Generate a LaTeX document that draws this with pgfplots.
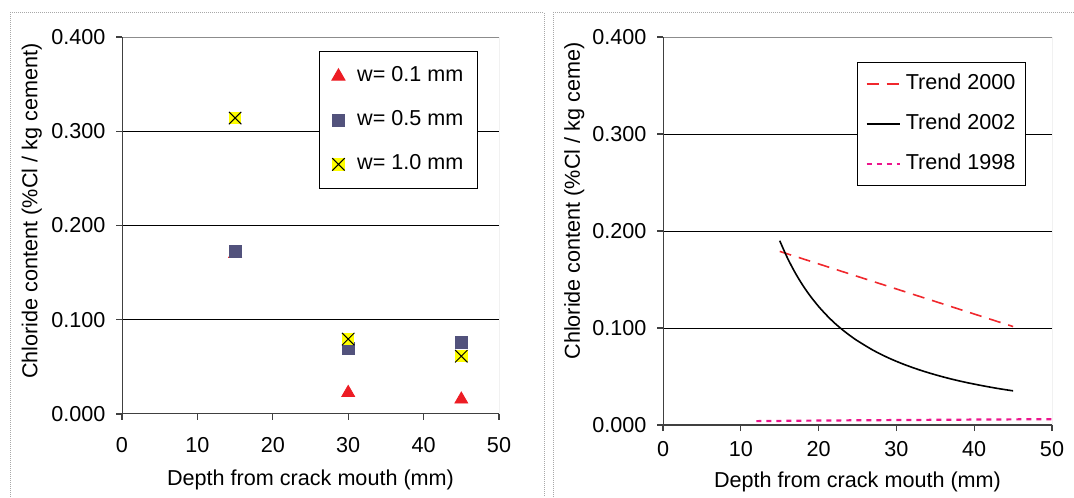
\documentclass[border=0pt]{standalone}
\usepackage{fontspec}
\setmainfont{Liberation Sans}
\usepackage{pgfplots}
\pgfplotsset{compat=1.18}

\definecolor{mkred}{HTML}{ED1C24}
\definecolor{mkslate}{HTML}{52527C}
\definecolor{mkyellow}{HTML}{FFFF00}
\definecolor{trendred}{HTML}{F0282D}
\definecolor{trendpink}{HTML}{EC158C}
\definecolor{axisdark}{HTML}{404040}
\definecolor{framegray}{HTML}{8C8C8C}
\definecolor{panelgray}{HTML}{A8A8A8}

% yellow square with a black cross
\pgfdeclareplotmark{xbox}{%
  \pgfpathrectangle{\pgfqpoint{-\pgfplotmarksize}{-\pgfplotmarksize}}{\pgfqpoint{2\pgfplotmarksize}{2\pgfplotmarksize}}%
  \pgfusepath{fill}%
  \pgfpathmoveto{\pgfqpoint{-\pgfplotmarksize}{-\pgfplotmarksize}}%
  \pgfpathlineto{\pgfqpoint{\pgfplotmarksize}{\pgfplotmarksize}}%
  \pgfpathmoveto{\pgfqpoint{-\pgfplotmarksize}{\pgfplotmarksize}}%
  \pgfpathlineto{\pgfqpoint{\pgfplotmarksize}{-\pgfplotmarksize}}%
  \pgfusepath{stroke}}

\pgfplotsset{
  chloride/.style={
    scale only axis,
    xmin=0, xmax=50, ymin=0, ymax=0.4,
    xtick={0,10,20,30,40,50},
    ytick={0,0.1,0.2,0.3,0.4},
    xtick pos=left, ytick pos=left,
    tick align=outside,
    major tick length=3pt,
    tick style={axisdark, line width=0.6pt},
    axis line style={draw=none},
    ymajorgrids,
    major grid style={black, line width=0.5pt},
    /pgf/number format/assume math mode=true,
    yticklabel style={xshift=-1.5pt, /pgf/number format/fixed, /pgf/number format/fixed zerofill, /pgf/number format/precision=3},
    xlabel={Depth from crack mouth (mm)},
    every axis y label/.style={rotate=90, anchor=center},
    legend cell align=left,
    every axis legend/.append style={draw=black, line width=0.5pt, fill=white,
      nodes={inner sep=1pt, text height=7.5pt, text depth=2pt}},
  },
}

\newcommand{\plotframe}{%
  \draw[framegray, line width=0.5pt] (rel axis cs:0,1) -- (rel axis cs:1,1) -- (rel axis cs:1,0);
  \draw[axisdark, line width=0.8pt] (rel axis cs:0,1) -- (rel axis cs:0,0) -- (rel axis cs:1,0);
}

\begin{document}
\fontsize{10.8}{13}\selectfont
\begin{tikzpicture}[font=\fontsize{10.8}{13}\selectfont]
\useasboundingbox (0,0) rectangle (537pt,248.5pt);

% chart area borders
\draw[panelgray, line width=0.5pt, dash pattern=on 0.5pt off 0.5pt]
  (5pt,0pt) -- (5pt,242pt) -- (272pt,242pt) -- (272pt,0pt);
\draw[panelgray, line width=0.5pt, dash pattern=on 0.5pt off 0.5pt]
  (276.5pt,0pt) -- (276.5pt,242pt) -- (537pt,242pt);

% left chart: measured chloride content
\begin{axis}[chloride,
  at={(61pt,41.5pt)}, anchor=south west,
  width=188.5pt, height=188.5pt,
  xticklabel style={yshift=-5pt},
  ylabel={Chloride content (\%Cl / kg cement)},
  every axis x label/.style={at={(axis description cs:0.5,-0.175)}, anchor=center},
  ylabel style={at={(axis description cs:-0.239,0.538)}},
  legend style={at={(0.944,0.962)}, anchor=north east, inner xsep=6pt, inner ysep=6.5pt,
    row sep=10.5pt, /tikz/every odd column/.append style={column sep=5pt}},
  legend image code/.code={\draw[#1] plot coordinates {(0.12cm,0cm)};},
]
\addplot[only marks, mark=triangle*, mark size=3.7pt, color=mkred]
  coordinates {(15,0.170) (30,0.0225) (45,0.0155)};
\addlegendentry{w= 0.1 mm}
\addplot[only marks, mark=square*, mark size=3pt, color=mkslate]
  coordinates {(15,0.173) (30,0.070) (45,0.076)};
\addlegendentry{w= 0.5 mm}
\addplot[only marks, mark=xbox, mark size=3.1pt, mark options={fill=mkyellow, draw=black, line width=0.5pt}]
  coordinates {(15,0.314) (30,0.0795) (45,0.0613)};
\addlegendentry{w= 1.0 mm}
\plotframe
\end{axis}

% right chart: fitted trends
\begin{axis}[chloride,
  at={(331.5pt,36pt)}, anchor=south west,
  width=194.5pt, height=194pt,
  xticklabel style={yshift=-1.5pt},
  ylabel={Chloride content (\%Cl / kg ceme)},
  every axis x label/.style={at={(axis description cs:0.5,-0.147)}, anchor=center},
  ylabel style={at={(axis description cs:-0.228,0.577)}},
  legend style={at={(0.933,0.936)}, anchor=north east, inner xsep=4pt, inner ysep=5pt,
    row sep=8.5pt, /tikz/every odd column/.append style={column sep=1.5pt}},
  legend image code/.code={\draw[#1] (0pt,0pt) -- (16.5pt,0pt);},
]
\addplot[trendred, line width=0.8pt, dash pattern=on 6pt off 4pt]
  coordinates {(15,0.179) (45,0.1015)};
\addlegendentry{Trend 2000}
\addplot[black, line width=0.8pt, smooth]
  coordinates {(15,0.190) (16,0.1721) (17,0.1568) (18,0.1436) (19,0.1322) (20,0.1222)
    (21,0.1134) (22,0.1055) (23,0.0986) (24,0.0924) (25,0.0868) (27,0.0771)
    (29,0.0691) (31,0.0624) (33,0.0567) (35,0.0518) (37,0.0475) (39,0.0438)
    (41,0.0406) (43,0.0377) (45,0.0352)};
\addlegendentry{Trend 2002}
\addplot[trendpink, line width=1.1pt, dash pattern=on 2.5pt off 2.5pt]
  coordinates {(12,0.0040) (20,0.0046) (30,0.0051) (40,0.0056) (50,0.0060)};
\addlegendentry{Trend 1998}
\plotframe
\end{axis}
\end{tikzpicture}
\end{document}
